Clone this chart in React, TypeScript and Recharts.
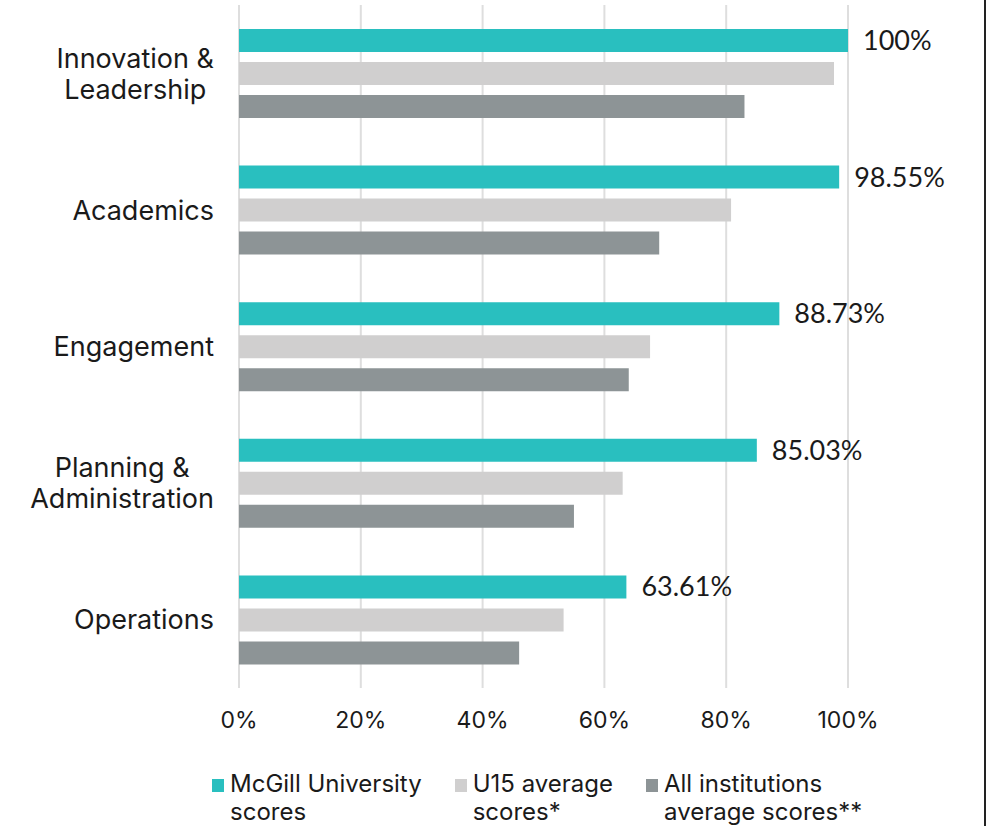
import React from "react";
import { BarChart, Bar, XAxis, YAxis, CartesianGrid, LabelList } from "recharts";

const categories = [
  "Innovation &\nLeadership",
  "Academics",
  "Engagement",
  "Planning &\nAdministration",
  "Operations",
];
const mcgillScores = [100, 98.55, 88.73, 85.03, 63.61];
const u15Scores = [97.7, 80.8, 67.5, 63.0, 53.3];
const allScores = [83.0, 69.0, 64.0, 55.0, 46.0];
const xTicks = [0, 20, 40, 60, 80, 100];

const seriesNames = ["McGill University\nscores", "U15 average\nscores*", "All institutions\naverage scores**"];
const seriesColors = ["#29bfbf", "#d0cfcf", "#8d9496"];
const seriesKeys = ["mcgill", "u15", "all"];

const data = categories.map((c, i) => ({
  category: c,
  mcgill: mcgillScores[i],
  u15: u15Scores[i],
  all: allScores[i],
}));

const FONT = "Inter, 'Noto Sans', sans-serif";
const TEXT = "#1a1a1a";
const Y_FONT_SIZE = 27;

let ctx: CanvasRenderingContext2D | null = null;
const measure = (s: string) => {
  if (!ctx) {
    const c = document.createElement("canvas");
    ctx = c.getContext("2d");
  }
  if (!ctx) return s.length * Y_FONT_SIZE * 0.5;
  ctx.font = `${Y_FONT_SIZE}px Inter`;
  return ctx.measureText(s).width;
};

const YTick = (props: any) => {
  const { x, y, payload } = props;
  const lines: string[] = String(payload.value).split("\n");
  const lh = 31;
  const start = y - ((lines.length - 1) * lh) / 2;
  const maxW = Math.max(...lines.map(measure));
  const right = x - 25;
  const cx = right - maxW / 2;
  return (
    <g>
      {lines.map((l, i) => (
        <text
          key={i}
          x={cx}
          y={start + i * lh}
          dy="0.36em"
          textAnchor="middle"
          fontFamily={FONT}
          fontSize={Y_FONT_SIZE}
          fill={TEXT}
        >
          {l}
        </text>
      ))}
    </g>
  );
};

export default function App() {
  return (
    <div
      style={{
        position: "absolute",
        left: 0,
        top: 0,
        width: 984,
        height: 826,
        borderRight: "2px solid #222",
        background: "#fff",
      }}
    >
      <BarChart
        width={984}
        height={826}
        data={data}
        layout="vertical"
        margin={{ top: 5, right: 136, bottom: 98, left: 0 }}
        barSize={23}
        barGap={10}
      >
        <CartesianGrid horizontal={false} vertical={true} stroke="#dedede" strokeWidth={2} />
        <XAxis
          type="number"
          domain={[0, 100]}
          ticks={xTicks}
          tickFormatter={(v: number) => `${v}%`}
          axisLine={false}
          tickLine={false}
          tickSize={0}
          tickMargin={24}
          height={40}
          interval={0}
          tick={{ fontFamily: FONT, fontSize: 23, fill: TEXT }}
        />
        <YAxis
          type="category"
          dataKey="category"
          width={239}
          axisLine={false}
          tickLine={false}
          tickSize={0}
          tickMargin={0}
          tick={<YTick />}
          interval={0}
        />
        {seriesKeys.map((k, i) => (
          <Bar key={k} dataKey={k} fill={seriesColors[i]} isAnimationActive={false}>
            {i === 0 && (
              <LabelList
                dataKey={k}
                position="right"
                offset={15}
                formatter={(v: any) => `${v}%`}
                style={{ fontFamily: "Lato, 'Noto Sans', sans-serif", fontSize: 27, fill: TEXT }}
              />
            )}
          </Bar>
        ))}
      </BarChart>
      <div
        style={{
          position: "absolute",
          left: 212,
          top: 770,
          display: "flex",
          gap: 33,
          fontFamily: FONT,
          fontSize: 24,
          lineHeight: "28px",
          color: TEXT,
        }}
      >
        {seriesNames.map((n, i) => (
          <div key={i} style={{ display: "flex", alignItems: "flex-start" }}>
            <div
              style={{
                width: 12,
                height: 13,
                background: seriesColors[i],
                marginTop: 9,
                marginRight: 6,
              }}
            />
            <div style={{ whiteSpace: "pre" }}>{n}</div>
          </div>
        ))}
      </div>
    </div>
  );
}
